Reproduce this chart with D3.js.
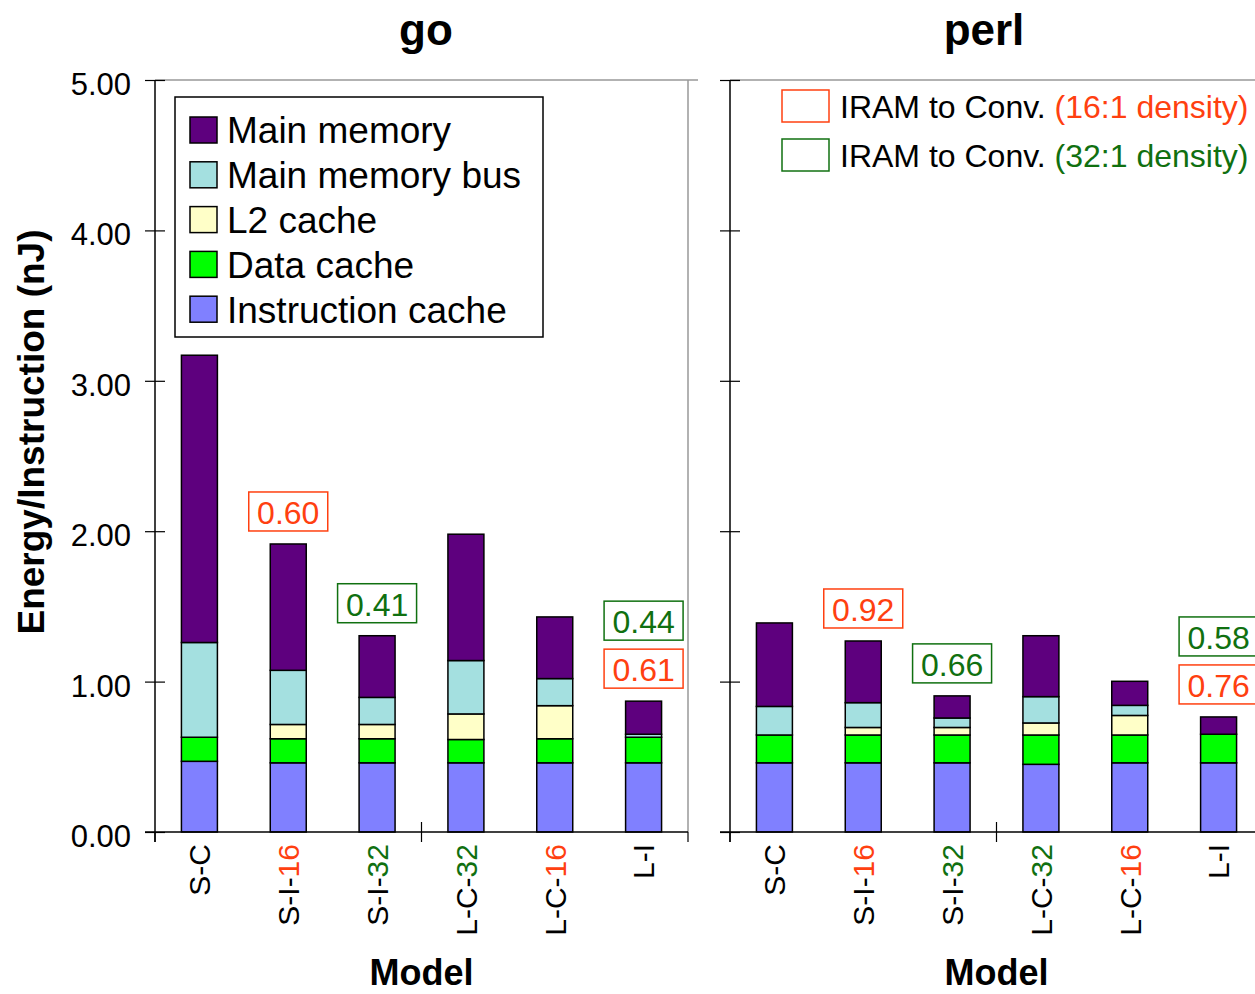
<!DOCTYPE html>
<html>
<head>
<meta charset="utf-8">
<script src="https://cdn.jsdelivr.net/npm/d3@7"></script>
<style>
    body { margin: 0; background: #fff; }
    svg { display: block; font-family: "Liberation Sans", Arial, sans-serif; }
</style>
</head>
<body>
<div id="chart"></div>
<script>
// models on the x axis
var models = ['S-C', 'S-I-16', 'S-I-32', 'L-C-32', 'L-C-16', 'L-I'];
// stack order, bottom to top
var parts = ['Instruction cache', 'Data cache', 'L2 cache', 'Main memory bus', 'Main memory'];
var yTicks = [0, 1, 2, 3, 4, 5];

// go (nJ per instruction)
var goInstr = [0.47, 0.46, 0.46, 0.46, 0.46, 0.46];
var goData  = [0.16, 0.16, 0.16, 0.155, 0.16, 0.17];
var goL2    = [0, 0.095, 0.095, 0.17, 0.22, 0];
var goBus   = [0.63, 0.36, 0.18, 0.355, 0.18, 0.02];
var goMain  = [1.91, 0.84, 0.41, 0.84, 0.41, 0.22];

// perl
var perlInstr = [0.46, 0.46, 0.46, 0.45, 0.46, 0.46];
var perlData  = [0.185, 0.185, 0.185, 0.195, 0.185, 0.19];
var perlL2    = [0, 0.05, 0.05, 0.08, 0.13, 0];
var perlBus   = [0.19, 0.165, 0.063, 0.175, 0.067, 0];
var perlMain  = [0.555, 0.41, 0.147, 0.405, 0.16, 0.115];

// IRAM to conventional ratios
var goRatio16 = {'S-I-16': '0.60', 'L-I': '0.61'};
var goRatio32 = {'S-I-32': '0.41', 'L-I': '0.44'};
var perlRatio16 = {'S-I-16': '0.92', 'L-I': '0.76'};
var perlRatio32 = {'S-I-32': '0.66', 'L-I': '0.58'};

var colors = {
    'Instruction cache': '#8080ff',
    'Data cache': '#00ff00',
    'L2 cache': '#ffffc8',
    'Main memory bus': '#a4e0e0',
    'Main memory': '#5e007e'
};
var red = '#ff4010', green = '#107010';

var W = 1255, H = 994;
var plotTop = 80, plotBottom = 832, plotW = 533;

var svg = d3.select('#chart').append('svg')
    .attr('width', W)
    .attr('height', H);

var y = d3.scaleLinear().domain([0, 5]).range([plotBottom, plotTop]);

function toRows(instr, data, l2, bus, main) {
    return models.map(function(m, i) {
        return {
            model: m,
            'Instruction cache': instr[i],
            'Data cache': data[i],
            'L2 cache': l2[i],
            'Main memory bus': bus[i],
            'Main memory': main[i]
        };
    });
}

function drawPanel(x0, title, titleX, rows, r16, r32, showYLabels, frameRight) {
    var g = svg.append('g').attr('transform', 'translate(' + x0 + ',0)');
    var x = d3.scaleBand().domain(models).range([0, plotW]).paddingInner(0.595).paddingOuter(0.2975);

    // gray frame
    g.append('line').attr('x1', 0).attr('x2', plotW + 10).attr('y1', plotTop).attr('y2', plotTop)
        .style('stroke', '#999').style('stroke-width', 1.5);
    if (frameRight) {
        g.append('line').attr('x1', plotW).attr('x2', plotW).attr('y1', plotTop).attr('y2', plotBottom)
            .style('stroke', '#999').style('stroke-width', 1.5);
    }

    // bars
    var stack = d3.stack().keys(parts)(rows);
    g.selectAll('g.layer')
        .data(stack)
        .enter().append('g')
        .attr('class', 'layer')
        .style('fill', function(d) { return colors[d.key]; })
        .selectAll('rect')
        .data(function(d) { return d.filter(function(s) { return s[1] - s[0] > 0; }); })
        .enter().append('rect')
        .attr('x', function(d) { return x(d.data.model); })
        .attr('width', x.bandwidth())
        .attr('y', function(d) { return y(d[1]); })
        .attr('height', function(d) { return y(d[0]) - y(d[1]); })
        .style('stroke', '#000')
        .style('stroke-width', 1.5);

    // y axis
    var yAxis = d3.axisLeft(y).tickValues(yTicks).tickSize(10).tickPadding(14)
        .tickFormat(showYLabels ? d3.format('.2f') : '');
    var ya = g.append('g').call(yAxis);
    ya.select('.domain').remove();
    ya.selectAll('.tick line').attr('x1', 10).style('stroke', '#000').style('stroke-width', 1.2);
    ya.selectAll('.tick text').attr('dy', '0.47em').style('font-size', '31px').style('fill', '#000')
        .style('font-family', '"Liberation Sans", Arial, sans-serif');
    g.append('line').attr('x1', 0).attr('x2', 0).attr('y1', plotTop).attr('y2', plotBottom + 10)
        .style('stroke', '#000').style('stroke-width', 1.5);

    // x axis
    g.append('line').attr('x1', -10).attr('x2', plotW).attr('y1', plotBottom).attr('y2', plotBottom)
        .style('stroke', '#000').style('stroke-width', 1.5);
    [0, 3, 6].forEach(function(k) {
        var xx = k * x.step();
        g.append('line').attr('x1', xx).attr('x2', xx)
            .attr('y1', k === 3 ? plotBottom - 10 : plotBottom).attr('y2', plotBottom + 10)
            .style('stroke', '#000').style('stroke-width', 1.2);
    });

    // rotated model labels, density suffix coloured
    var lab = g.selectAll('text.model')
        .data(models)
        .enter().append('text')
        .attr('class', 'model')
        .attr('transform', function(d) {
            return 'translate(' + (x(d) + x.bandwidth() / 2) + ',' + (plotBottom + 12) + ') rotate(-90)';
        })
        .attr('dy', '0.36em')
        .attr('text-anchor', 'end')
        .style('font-size', '30px');
    lab.each(function(d) {
        var t = d3.select(this);
        var m = d.match(/^(.*-)(16|32)$/);
        if (m) {
            t.append('tspan').text(m[1]);
            t.append('tspan').style('fill', m[2] === '16' ? red : green).text(m[2]);
        } else {
            t.text(d);
        }
    });

    g.append('text')
        .attr('x', plotW / 2)
        .attr('y', 985)
        .attr('text-anchor', 'middle')
        .style('font-size', '36px')
        .style('font-weight', 'bold')
        .text('Model');

    g.append('text')
        .attr('x', titleX)
        .attr('y', 45)
        .attr('text-anchor', 'middle')
        .style('font-size', '44px')
        .style('font-weight', 'bold')
        .text(title);

    // ratio boxes above the IRAM bars
    var bw = 79, bh = 39;
    rows.forEach(function(r) {
        var total = d3.sum(parts, function(p) { return r[p]; });
        var cx = x(r.model) + x.bandwidth() / 2;
        var level = 0;
        [[r16, red], [r32, green]].forEach(function(pair) {
            var v = pair[0][r.model];
            if (!v) return;
            var yb = y(total) - 13 - level * 48;
            g.append('rect')
                .attr('x', cx - bw / 2).attr('y', yb - bh)
                .attr('width', bw).attr('height', bh)
                .style('fill', '#fff').style('stroke', pair[1]).style('stroke-width', 1.5);
            g.append('text')
                .attr('x', cx).attr('y', yb - 7)
                .attr('text-anchor', 'middle')
                .style('font-size', '32px')
                .style('fill', pair[1])
                .text(v);
            level++;
        });
    });
    return g;
}

var goRows = toRows(goInstr, goData, goL2, goBus, goMain);
var perlRows = toRows(perlInstr, perlData, perlL2, perlBus, perlMain);

drawPanel(155, 'go', 271, goRows, goRatio16, goRatio32, true, true);
drawPanel(730, 'perl', 254, perlRows, perlRatio16, perlRatio32, false, false);

// y axis title
svg.append('text')
    .attr('transform', 'translate(44,432) rotate(-90)')
    .attr('text-anchor', 'middle')
    .style('font-size', '37px')
    .style('font-weight', 'bold')
    .text('Energy/Instruction (nJ)');

// component legend
var leg = svg.append('g').attr('transform', 'translate(175,97)');
leg.append('rect').attr('width', 368).attr('height', 240)
    .style('fill', '#fff').style('stroke', '#000').style('stroke-width', 1.5);
parts.slice().reverse().forEach(function(p, i) {
    var cy = 33 + i * 44.8;
    leg.append('rect').attr('x', 15).attr('y', cy - 13).attr('width', 27).attr('height', 26)
        .style('fill', colors[p]).style('stroke', '#000').style('stroke-width', 1.5);
    leg.append('text').attr('x', 52).attr('y', cy).attr('dy', '0.36em')
        .style('font-size', '37px').text(p);
});

// density legend
var leg2 = svg.append('g').attr('transform', 'translate(782,90)');
[['(16:1 density)', red], ['(32:1 density)', green]].forEach(function(d, i) {
    var yy = i * 49;
    leg2.append('rect').attr('x', 0).attr('y', yy).attr('width', 47).attr('height', 32)
        .style('fill', 'none').style('stroke', d[1]).style('stroke-width', 1.5);
    var t = leg2.append('text').attr('x', 58).attr('y', yy + 16).attr('dy', '0.36em')
        .style('font-size', '32px');
    t.append('tspan').text('IRAM to Conv. ');
    t.append('tspan').style('fill', d[1]).text(d[0]);
});
</script>
</body>
</html>
